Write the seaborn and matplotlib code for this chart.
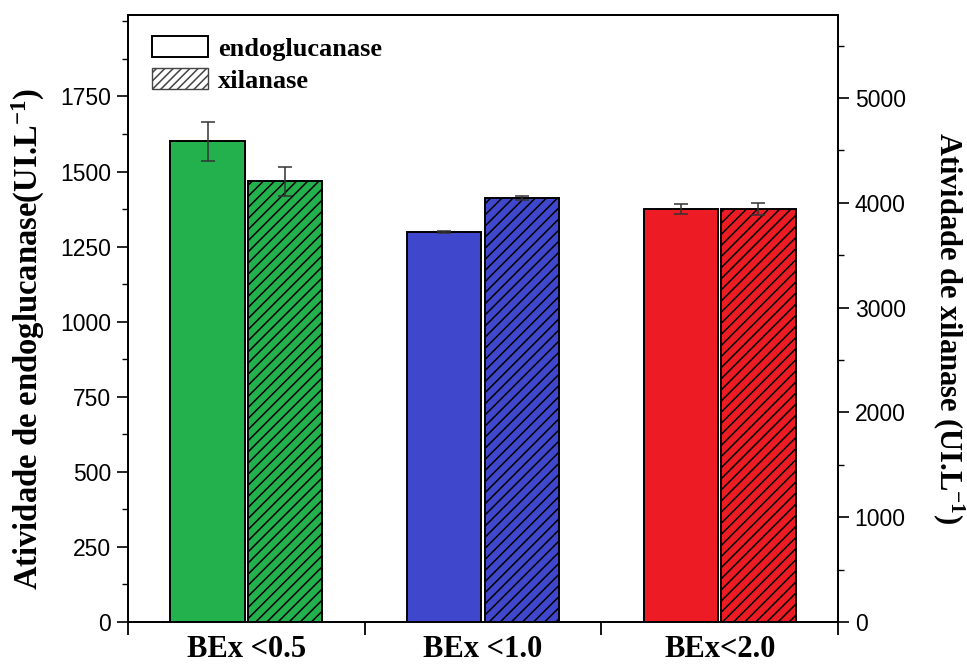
import matplotlib
matplotlib.use("Agg")
import matplotlib.pyplot as plt
from matplotlib.patches import Patch
from matplotlib.ticker import MultipleLocator, FixedLocator, NullFormatter
import seaborn as sns
import pandas as pd

# Enzyme activity per particle size fraction
categories = ["BEx <0.5", "BEx <1.0", "BEx<2.0"]
endo_mean = [1600, 1298, 1375]
endo_err = [65, 4, 18]
xil_mean = [4205, 4045, 3940]
xil_err = [140, 22, 60]
bar_colors = ["#22b14c", "#3f48cc", "#ed1c24"]
enzymes = ["endoglucanase", "xilanase"]

sns.set_theme(style="white")
serif = ["Liberation Serif", "DejaVu Serif"]
sans = ["Liberation Sans", "DejaVu Sans"]
plt.rcParams["mathtext.fontset"] = "custom"
plt.rcParams["mathtext.bf"] = "Liberation Serif:bold"
plt.rcParams["mathtext.rm"] = "Liberation Serif"
plt.rcParams["mathtext.default"] = "bf"
plt.rcParams["hatch.linewidth"] = 1.1

fig = plt.figure(figsize=(9.67, 6.66), dpi=100)
ax1 = fig.add_axes([0.1324, 0.066, 0.7342, 0.911])
ax2 = ax1.twinx()

# each axis holds one enzyme; the other enzyme gets 0 so the dodge slots stay
zeros = [0] * len(categories)
df_endo = pd.DataFrame({"cat": categories * 2, "val": endo_mean + zeros,
                        "enz": [enzymes[0]] * 3 + [enzymes[1]] * 3})
df_xil = pd.DataFrame({"cat": categories * 2, "val": zeros + xil_mean,
                       "enz": [enzymes[0]] * 3 + [enzymes[1]] * 3})

common = dict(x="cat", y="val", hue="enz", hue_order=enzymes, order=categories,
              width=0.655, gap=0.04, errorbar=None, legend=False,
              palette=["white", "white"], edgecolor="black", linewidth=1.4)
sns.barplot(data=df_endo, ax=ax1, **common)
sns.barplot(data=df_xil, ax=ax2, hatch="///", **common)

for ax, errs in ((ax1, endo_err), (ax2, xil_err)):
    bars = []
    for p in ax.patches:
        if p.get_height() > 0:
            bars.append(p)
        else:
            p.set_visible(False)
    bars.sort(key=lambda p: p.get_x())
    xs, ys = [], []
    for p, c in zip(bars, bar_colors):
        p.set_facecolor(c)
        xs.append(p.get_x() + p.get_width() / 2)
        ys.append(p.get_height())
    ax.errorbar(xs, ys, yerr=errs, fmt="none", ecolor="#333333",
                elinewidth=1.1, capsize=5, capthick=1.1, zorder=5)

ax1.set_xlim(-0.5, 2.5)
ax1.set_ylim(0, 2020)
ax2.set_ylim(0, 5790)

# y axes
ax1.yaxis.set_major_locator(FixedLocator([0, 250, 500, 750, 1000, 1250, 1500, 1750]))
ax1.yaxis.set_minor_locator(MultipleLocator(125))
ax2.yaxis.set_major_locator(FixedLocator([0, 1000, 2000, 3000, 4000, 5000]))
ax2.yaxis.set_minor_locator(MultipleLocator(500))

# x axis: labels centred on groups, ticks at group boundaries
ax1.set_xticks([0, 1, 2])
ax1.set_xticklabels(categories)
ax1.xaxis.set_minor_locator(FixedLocator([-0.5, 0.5, 1.5, 2.5]))
ax1.xaxis.set_minor_formatter(NullFormatter())
ax1.tick_params(axis="x", which="major", length=0, pad=9)
ax1.tick_params(axis="x", which="minor", length=9, width=1.3, direction="out",
                bottom=True, color="black")

for ax in (ax1, ax2):
    ax.set_xlabel("")
    ax.set_ylabel("")
    for s in ax.spines.values():
        s.set_color("black")
        s.set_linewidth(1.3)

ax1.tick_params(axis="y", which="major", length=8, width=1.2, direction="out",
                left=True, color="black", labelsize=16.5, pad=4)
ax1.tick_params(axis="y", which="minor", length=4.5, width=1.0, direction="out",
                left=True, color="black")
ax2.tick_params(axis="y", which="major", length=8, width=1.2, direction="out",
                right=True, color="black", labelsize=16.5, pad=4)
ax2.tick_params(axis="y", which="minor", length=4.5, width=1.0, direction="out",
                right=True, color="black")

for lab in ax1.get_yticklabels() + ax2.get_yticklabels():
    lab.set_family(sans)
    lab.set_color("black")
for lab in ax1.get_xticklabels():
    lab.set_family(serif)
    lab.set_fontweight("bold")
    lab.set_fontsize(22)
    lab.set_color("black")

ax1.set_ylabel(r"Atividade de endoglucanase(UI.L$^{-1}$)", family=serif,
               fontweight="bold", fontsize=23.5, color="black")
ax1.yaxis.set_label_coords(-0.114, 0.466)
ax2.set_ylabel(r"Atividade de xilanase (UI.L$^{-1}$)", family=serif,
               fontweight="bold", fontsize=22, color="black", rotation=270)
ax2.yaxis.set_label_coords(1.182, 0.485)

handles = [Patch(facecolor="white", edgecolor="black", linewidth=1.4),
           Patch(facecolor="white", edgecolor="#444444", linewidth=1.0, hatch="////")]
leg = ax1.legend(handles, enzymes, loc="upper left", frameon=False,
                 bbox_to_anchor=(0.011, 0.993), handlelength=2.1, handleheight=0.84,
                 handletextpad=0.38, labelspacing=0.3, borderpad=0.12,
                 prop={"family": serif, "weight": "bold", "size": 19})
for t in leg.get_texts():
    t.set_color("black")

fig.savefig("out.png", dpi=100)
